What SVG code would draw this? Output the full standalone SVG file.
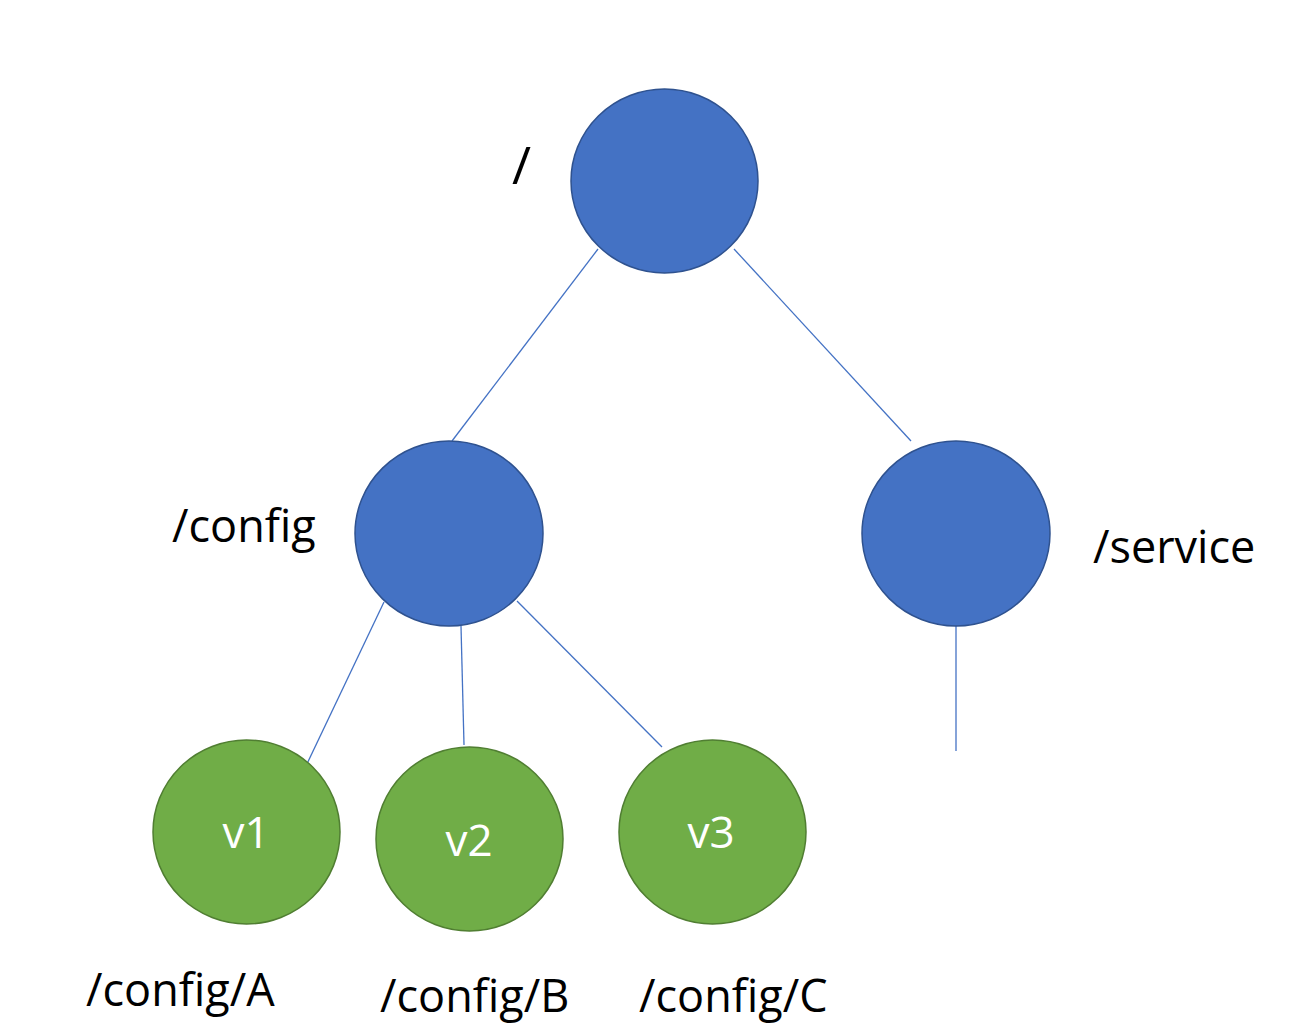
<svg xmlns="http://www.w3.org/2000/svg" width="1306" height="1034" viewBox="0 0 1306 1034">
<style>
.blue{fill:#4472C4;stroke:#2F528F;stroke-width:1.5}
.green{fill:#70AD47;stroke:#507E32;stroke-width:1.5}
.lbl{font-family:"Open Sans","Liberation Sans",sans-serif;font-size:45px;fill:#000}
.in{font-family:"Open Sans","Liberation Sans",sans-serif;font-size:44px;fill:#fff;text-anchor:middle}
.edge{stroke:#4472C4;stroke-width:1.3;fill:none}
</style>
<rect width="1306" height="1034" fill="#fff"/>
<g id="connectors">
<line class="edge" x1="598" y1="249" x2="452" y2="441"/>
<line class="edge" x1="734" y1="249" x2="911" y2="441"/>
<line class="edge" x1="384" y1="602" x2="305" y2="768"/>
<line class="edge" x1="461" y1="626" x2="464" y2="745"/>
<line class="edge" x1="517" y1="601" x2="662" y2="747"/>
<line class="edge" x1="956" y1="626" x2="956" y2="751"/>
</g>
<g id="root">
<ellipse class="blue" cx="664.5" cy="181" rx="93.5" ry="92"/>
<text class="lbl" x="512" y="184" style="font-size:52px">/</text>
</g>
<g id="config">
<ellipse class="blue" cx="449" cy="533.5" rx="94" ry="92.5"/>
<text class="lbl" x="172" y="542">/config</text>
</g>
<g id="service">
<ellipse class="blue" cx="956" cy="533.5" rx="94" ry="92.5"/>
<text class="lbl" x="1093" y="563">/service</text>
</g>
<g id="v1">
<ellipse class="green" cx="246.5" cy="832" rx="93.5" ry="92"/>
<text class="in" x="246" y="848">v1</text>
<text class="lbl" x="86" y="1006">/config/A</text>
</g>
<g id="v2">
<ellipse class="green" cx="469.5" cy="839" rx="93.5" ry="92"/>
<text class="in" x="469" y="856">v2</text>
<text class="lbl" x="380" y="1012">/config/B</text>
</g>
<g id="v3">
<ellipse class="green" cx="712.5" cy="832" rx="93.5" ry="92"/>
<text class="in" x="711" y="848">v3</text>
<text class="lbl" x="639" y="1012">/config/C</text>
</g>
</svg>
